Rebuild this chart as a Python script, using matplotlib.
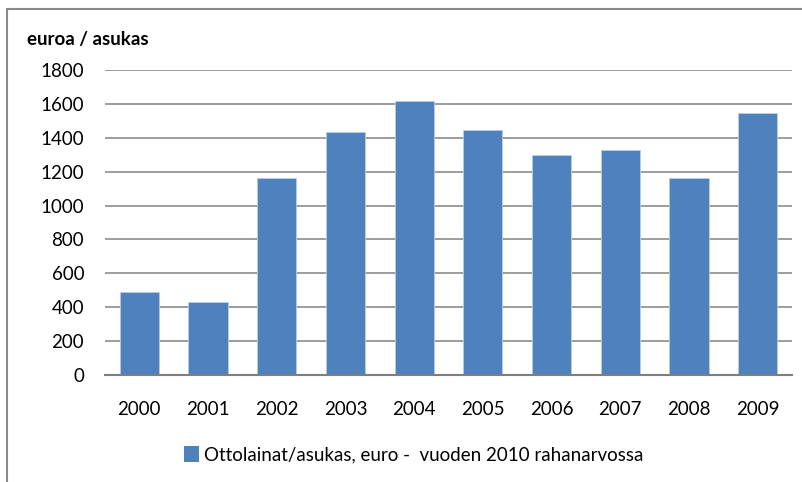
import matplotlib
matplotlib.use("Agg")
import matplotlib.pyplot as plt
from matplotlib.patches import Rectangle, Patch

plt.rcParams.update({
    "font.family": ["Lato", "DejaVu Sans"],
    "font.size": 13.5,
})

years = ["2000", "2001", "2002", "2003", "2004",
         "2005", "2006", "2007", "2008", "2009"]
loans_per_capita = [492, 430, 1162, 1432, 1616, 1447, 1298, 1330, 1162, 1545]
series_label = "Ottolainat/asukas, euro -  vuoden 2010 rahanarvossa"
yticks = list(range(0, 1801, 200))

BAR_COL = "#4F81BD"
GRID_COL = "#8C8C8C"
W, H = 803, 482

fig = plt.figure(figsize=(W / 100, H / 100), dpi=100)
fig.patch.set_facecolor("white")

# chart frame, open to the right and bottom
fig.patches.append(Rectangle((7.5 / W, -0.1), 1.2, 1.1 - 8.5 / H,
                             transform=fig.transFigure, fill=False,
                             edgecolor="#8A8A8A", linewidth=1.5))

ax = fig.add_axes([105 / W, 1 - 375 / H, (792 - 105) / W, (375 - 70) / H])
x = range(len(years))
ax.bar(x, loans_per_capita, width=0.57, color=BAR_COL,
       edgecolor="#B9CDE5", linewidth=0.6, zorder=3)
ax.set_xlim(-0.5, len(years) - 0.5)
ax.set_ylim(0, 1800)
ax.set_yticks(yticks)
ax.set_yticklabels([str(v) for v in yticks])
ax.set_xticks(list(x))
ax.set_xticklabels(years)
ax.yaxis.grid(True, color=GRID_COL, linewidth=1.2, zorder=0)
ax.set_axisbelow(True)
for s in ("left", "right", "top"):
    ax.spines[s].set_visible(False)
ax.spines["bottom"].set_color("#7F7F7F")
ax.spines["bottom"].set_linewidth(1.5)
ax.spines["bottom"].set_zorder(4)
ax.tick_params(axis="both", length=0, colors="black", labelsize=13.5)
ax.tick_params(axis="y", pad=15)
ax.tick_params(axis="x", pad=19)

fig.text(27 / W, 1 - 40 / H, "euroa / asukas", ha="left", va="center",
         fontsize=13.5, fontweight="bold")

fig.legend(handles=[Patch(facecolor=BAR_COL, label=series_label)],
           loc="center", bbox_to_anchor=(414 / W, 1 - 455 / H),
           frameon=False, handlelength=0.75, handleheight=0.9,
           handletextpad=0.3, fontsize=13.5)

fig.savefig("out.png", dpi=100, facecolor="white")
